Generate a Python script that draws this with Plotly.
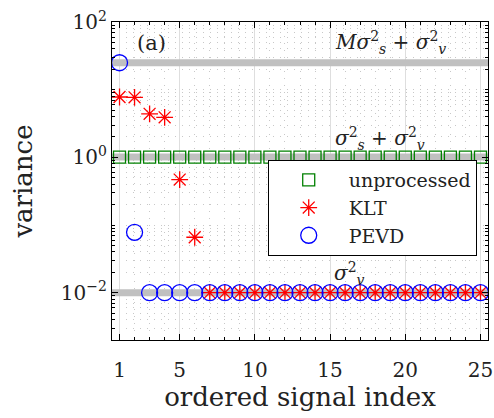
import math
import plotly.graph_objects as go

idx = list(range(1, 26))
unprocessed = [1.01] * 25
klt = [7.8, 7.7, 4.4, 3.9, 0.47, 0.066] + [0.01] * 19
pevd = [25.0, 0.078] + [0.01] * 23
levels = [25.01, 1.01, 0.01]
level_labels = ["<i>Mσ</i><sup>2</sup><sub><i>s</i></sub> + <i>σ</i><sup>2</sup><sub><i>v</i></sub>",
                "<i>σ</i><sup>2</sup><sub><i>s</i></sub> + <i>σ</i><sup>2</sup><sub><i>v</i></sub>",
                "<i>σ</i><sup>2</sup><sub><i>v</i></sub>"]
label_x = [19.0, 18.3, 16.3]
label_y = [10**1.70, 10**0.28, 10**-1.72]
xticks = [1, 5, 10, 15, 20, 25]
yticks = [0.01, 1, 100]
yticktext = ["10<sup>−2</sup>", "10<sup>0</sup>", "10<sup>2</sup>"]

FONT = "DejaVu Serif"
fig = go.Figure()

x0, x1 = idx[0] - 0.5, idx[-1] + 0.5
for lv in levels:
    fig.add_trace(go.Scatter(x=[x0, x1], y=[lv, lv], mode="lines",
                             line=dict(color="#c0c0c0", width=7),
                             showlegend=False, hoverinfo="skip"))

fig.add_trace(go.Scatter(x=idx, y=unprocessed, mode="markers", name="unprocessed",
                         marker=dict(symbol="square-open", size=12,
                                     color="#008000", line=dict(width=1.3, color="#008000"))))
fig.add_trace(go.Scatter(x=idx, y=klt, mode="markers", name="KLT",
                         marker=dict(symbol="asterisk-open", size=14,
                                     color="#ff0000", line=dict(width=1.3, color="#ff0000"))))
fig.add_trace(go.Scatter(x=idx, y=pevd, mode="markers", name="PEVD",
                         marker=dict(symbol="circle-open", size=16,
                                     color="#0000ff", line=dict(width=1.3, color="#0000ff"))))

fig.add_annotation(x=3.1, y=1.69, text="(a)", showarrow=False,
                   font=dict(family=FONT, size=21, color="#222"))
for t, lx, ly in zip(level_labels, label_x, label_y):
    fig.add_annotation(x=lx, y=math.log10(ly), text=t, showarrow=False,
                       font=dict(family=FONT, size=20, color="#222"))

minor_y = [k * 10**e for e in range(-3, 3) for k in range(1, 10)
           if 0.002 <= k * 10**e <= 100 and k * 10**e not in yticks]

fig.update_xaxes(range=[0.5, 25.5], tickvals=xticks, ticks="inside", ticklen=6,
                 tickcolor="black", showline=True, linecolor="black", linewidth=1.2,
                 mirror="allticks", showgrid=True, gridcolor="#dedede", gridwidth=1,
                 zeroline=False, automargin=False, ticklabelstandoff=12,
                 minor=dict(dtick=1, ticks="inside", ticklen=3, tickcolor="black",
                            showgrid=True, gridcolor="#c8c8c8", griddash="1px,6px"),
                 tickfont=dict(family=FONT, size=20, color="#222"),
                 title=dict(text="ordered signal index", font=dict(family=FONT, size=26, color="#222"),
                            standoff=3))
fig.update_yaxes(type="log", range=[-2.699, 2], tickvals=yticks, ticktext=yticktext,
                 ticks="inside", ticklen=6, tickcolor="black", showline=True,
                 linecolor="black", linewidth=1.2, mirror="allticks", showgrid=True,
                 gridcolor="#dedede", gridwidth=1, zeroline=False, automargin=False,
                 minor=dict(tickvals=minor_y, ticks="inside", ticklen=3, tickcolor="black",
                            showgrid=True, gridcolor="#c8c8c8", griddash="1px,6px"),
                 tickfont=dict(family=FONT, size=20, color="#222"),
                 title=dict(text="variance", font=dict(family=FONT, size=26, color="#222"),
                            standoff=20))

fig.update_layout(width=494, height=418, margin=dict(l=112, r=6, t=22, b=78),
                  plot_bgcolor="white", paper_bgcolor="white",
                  legend=dict(x=0.97, y=0.566, xanchor="right", yanchor="top",
                              bgcolor="white", bordercolor="black", borderwidth=1,
                              font=dict(family=FONT, size=19, color="#222"),
                              itemwidth=70, tracegroupgap=0))
fig.write_html("out.html", config={"displayModeBar": False},
               post_script="document.body.style.margin='0px';")
